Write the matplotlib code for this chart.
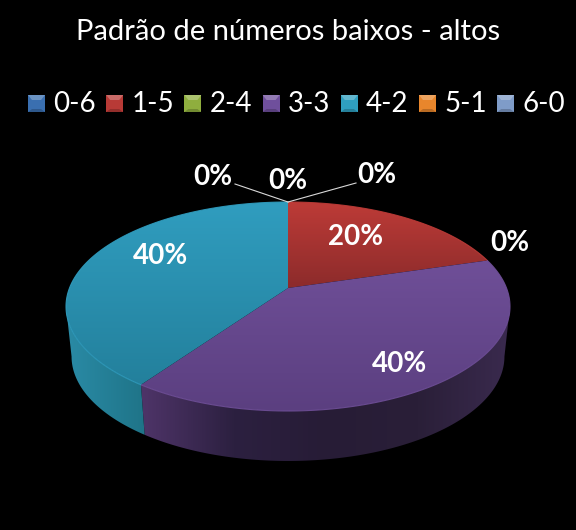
import numpy as np
import matplotlib
matplotlib.use('Agg')
import matplotlib.pyplot as plt
from matplotlib.colors import LinearSegmentedColormap
from matplotlib.patches import Polygon

plt.rcParams['font.family'] = ['Lato', 'DejaVu Sans']

title = 'Padrão de números baixos - altos'
categories = ['0-6', '1-5', '2-4', '3-3', '4-2', '5-1', '6-0']
values = [0, 20, 0, 40, 40, 0, 0]
percent_labels = ['0%', '20%', '0%', '40%', '40%', '0%', '0%']
legend_colors = ['#3a6fb0', '#b83a36', '#8fae3e', '#6f4f9c', '#2f9fc0', '#e8862c', '#7f9cc8']

top_colors = {'1-5': ['#bd3b37', '#8c2b2b'], '3-3': ['#6f4f98', '#5b3f80'], '4-2': ['#309dbf', '#23809c']}
wall_colors = {'1-5': ['#7c2626', '#5a1c1c'],
               '3-3': ['#4e3468', '#2c2040', '#271c36', '#2a1f38', '#3a2a4e'],
               '4-2': ['#2a8ba6', '#1f7488']}

# pixel layout of the pie
cx, cy, rx, ry, depth = 288, 306.5, 222, 104.5, 50
apex_y = 288
wall_scale = 0.975
persp = 0.152
label_pos = [(288, 181), (356, 237), (510, 243), (400, 364), (161, 256), (213, 177), (377, 175)]


def rim(deg):
    # clockwise from the top, with a perspective shift so the front looks bigger
    t = np.radians(deg)
    x, y = np.sin(t), np.cos(t)
    yp = (y + persp) / (1 + persp * y)
    xp = x * np.sqrt(1 - persp ** 2) / (1 + persp * y)
    return cx + rx * xp, cy - ry * yp


def fill_gradient(ax, pts, stops, horizontal=False):
    pts = np.array(pts)
    cmap = LinearSegmentedColormap.from_list('g', stops)
    grad = np.linspace(0, 1, 200)
    grad = grad.reshape(1, -1) if horizontal else grad.reshape(-1, 1)
    x0, x1, y0, y1 = pts[:, 0].min(), pts[:, 0].max(), pts[:, 1].min(), pts[:, 1].max()
    im = ax.imshow(grad, cmap=cmap, extent=(x0, x1, y1, y0), aspect='auto', interpolation='bilinear')
    im.set_clip_path(Polygon(pts, closed=True, transform=ax.transData))


fig = plt.figure(figsize=(5.76, 5.30), dpi=100, facecolor='black')
ax = fig.add_axes([0, 0, 1, 1])
ax.set_facecolor('black')

start = 0
slices = []
for cat, val in zip(categories, values):
    sweep = val / sum(values) * 360
    if val > 0:
        slices.append((cat, start, start + sweep))
    start += sweep

# only the front of the rim has a wall, between the left and right extremes
front_a = np.degrees(np.arccos(-persp))
front_b = 360 - front_a
for cat, a, b in slices:
    a2, b2 = max(a, front_a), min(b, front_b)
    if a2 >= b2:
        continue
    xs, ys = rim(np.linspace(a2, b2, 120))
    xb = cx + (xs - cx) * wall_scale
    pts = list(zip(xs, ys)) + list(zip(xb[::-1], ys[::-1] + depth))
    fill_gradient(ax, pts, wall_colors[cat], horizontal=True)

for cat, a, b in slices:
    xs, ys = rim(np.linspace(a, b, 120))
    pts = [(cx, apex_y)] + list(zip(xs, ys))
    fill_gradient(ax, pts, top_colors[cat])
    ax.plot(xs, ys, color=top_colors[cat][0], lw=0.8, alpha=0.9, solid_capstyle='round')

# leader lines of the empty slices
ax.plot([288, 235], [202, 184], color='#d9d9d9', lw=0.8)
ax.plot([288, 356], [202, 183], color='#d9d9d9', lw=0.8)

for lab, (x, y) in zip(percent_labels, label_pos):
    ax.text(x, y, lab, color='white', fontsize=20, fontweight='bold', ha='center', va='center')

ax.text(288, 32, title, color='white', fontsize=21, ha='center', va='center')

# legend
for i, (cat, col) in enumerate(zip(categories, legend_colors)):
    x = 28 + i * 78.2
    ax.add_patch(plt.Rectangle((x, 95), 17, 17, color=col, lw=0))
    ax.add_patch(Polygon([(x, 95), (x + 17, 95), (x + 13, 100), (x + 4, 100)], color='white', alpha=0.25, lw=0))
    ax.add_patch(Polygon([(x, 112), (x + 17, 112), (x + 13, 109), (x + 4, 109)], color='black', alpha=0.2, lw=0))
    ax.text(x + 25, 104, cat, color='white', fontsize=20, ha='left', va='center')

ax.set_xlim(0, 576)
ax.set_ylim(530, 0)
ax.axis('off')
fig.savefig('out.png', dpi=100, facecolor='black')
